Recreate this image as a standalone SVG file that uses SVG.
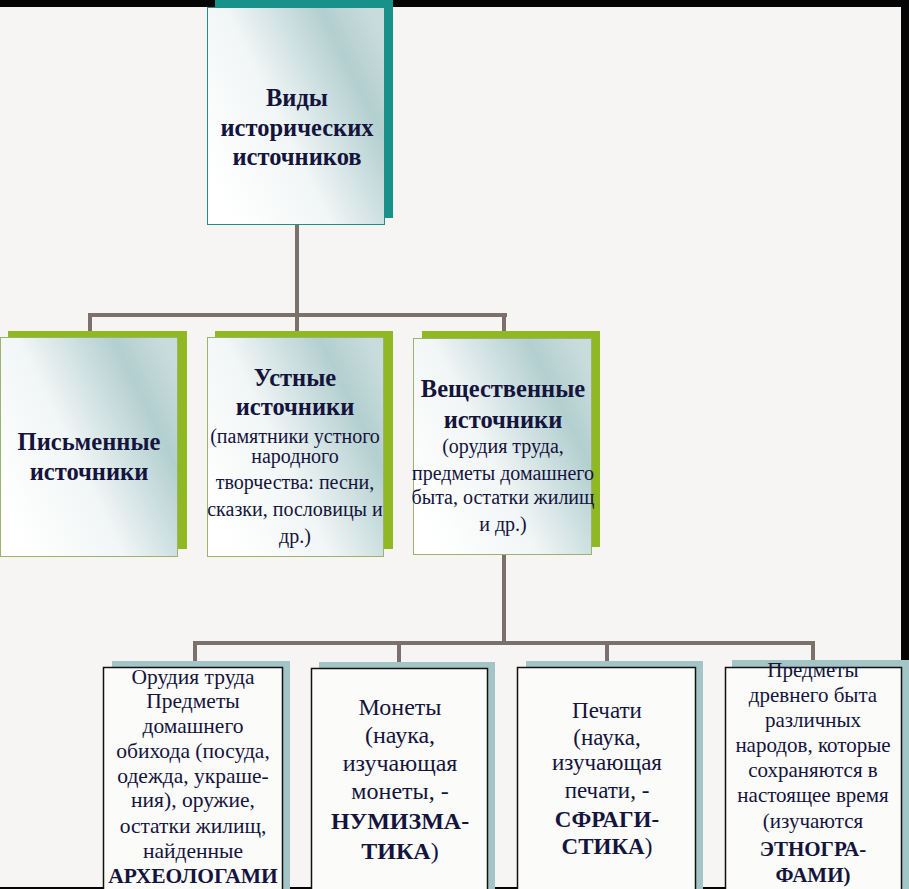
<svg xmlns="http://www.w3.org/2000/svg" width="909" height="889" viewBox="0 0 909 889">
  <defs>
    <linearGradient id="g2" x1="0" y1="0.75" x2="1" y2="0.15">
      <stop offset="0" stop-color="#ffffff"/>
      <stop offset="0.4" stop-color="#f2f6f6"/>
      <stop offset="0.8" stop-color="#b3cfd0"/>
      <stop offset="1" stop-color="#c9dcdc"/>
    </linearGradient>
    <style>
      .bg { fill: #f6f5f4; }
      .edge { fill: #050505; }
      .conn { stroke: #7b706c; stroke-width: 4; fill: none; }
      .shTeal { fill: #17918a; }
      .shGreen { fill: #8fb823; }
      .shGray { fill: #a3c5c6; }
      .boxTop { fill: url(#g2); stroke: #1f8f87; stroke-width: 1; }
      .boxMid { fill: url(#g2); stroke: #9bb36a; stroke-width: 1; }
      .boxLow { fill: #fbfbfa; stroke: #111111; stroke-width: 1.5; }
      text { font-family: "Liberation Serif", "Times New Roman", serif; fill: #14143c; text-anchor: middle; }
      .h { font-weight: bold; }
      .t1 { font-size: 24.5px; }
      .t2 { font-size: 24.5px; }
      .s2 { font-size: 20px; }
      .s3 { font-size: 21.5px; }
      .s4 { font-size: 21px; }
      .m3 { font-size: 24px; }
      .c3 { font-size: 23px; }
    </style>
  </defs>
  <rect class="bg" x="0" y="0" width="909" height="889"/>
  <rect class="edge" x="0" y="0" width="909" height="7"/>
  <rect class="edge" x="901" y="0" width="8" height="889"/>
  <rect class="edge" x="0" y="887" width="909" height="2"/>

  <g id="connectors">
    <path class="conn" d="M297 225 V315 M88 315 H507 M90 313 V334 M297 315 V334 M504 315 V334"/>
    <path class="conn" d="M504 553 V643 M193 643 H815 M195 641 V663 M399 643 V663 M607 643 V663 M813 643 V663"/>
  </g>

  <g id="node-root">
    <rect class="shTeal" x="215" y="0" width="178" height="218"/>
    <rect class="boxTop" x="207.5" y="7.5" width="177" height="217"/>
    <text class="h t1" x="297" y="106">Виды</text>
    <text class="h t1" x="297" y="136">исторических</text>
    <text class="h t1" x="297" y="165">источников</text>
  </g>

  <g id="node-written">
    <rect class="shGreen" x="8" y="331" width="179" height="218"/>
    <rect class="boxMid" x="0.5" y="337.5" width="177" height="219"/>
    <text class="h t2" x="89" y="450">Письменные</text>
    <text class="h t2" x="89" y="480">источники</text>
  </g>

  <g id="node-oral">
    <rect class="shGreen" x="215" y="331" width="178" height="218"/>
    <rect class="boxMid" x="207.5" y="337.5" width="176" height="219"/>
    <text class="h t2" x="295" y="386">Устные</text>
    <text class="h t2" x="295" y="415">источники</text>
    <text class="s2" x="295" y="443">(памятники устного</text>
    <text class="s2" x="295" y="463">народного</text>
    <text class="s2" x="295" y="489">творчества: песни,</text>
    <text class="s2" x="295" y="516">сказки, пословицы и</text>
    <text class="s2" x="295" y="543">др.)</text>
  </g>

  <g id="node-material">
    <rect class="shGreen" x="422" y="331" width="178" height="216"/>
    <rect class="boxMid" x="413.5" y="338.5" width="178" height="216"/>
    <text class="h t2" x="503" y="397">Вещественные</text>
    <text class="h t2" x="503" y="428">источники</text>
    <text class="s2" x="503" y="453">(орудия труда,</text>
    <text class="s2" x="503" y="480">предметы домашнего</text>
    <text class="s2" x="503" y="504">быта, остатки жилищ</text>
    <text class="s2" x="503" y="531">и др.)</text>
  </g>

  <g id="node-archaeology">
    <rect class="shGray" x="112" y="661" width="178" height="240"/>
    <rect class="boxLow" x="103.5" y="667.5" width="179" height="240"/>
    <text class="s3" x="193" y="684">Орудия труда</text>
    <text class="s3" x="193" y="708">Предметы</text>
    <text class="s3" x="193" y="733">домашнего</text>
    <text class="s3" x="193" y="758">обихода (посуда,</text>
    <text class="s3" x="193" y="783">одежда, украше-</text>
    <text class="s3" x="193" y="807">ния), оружие,</text>
    <text class="s3" x="193" y="833">остатки жилищ,</text>
    <text class="s3" x="193" y="858">найденные</text>
    <text class="s3 h" x="193" y="883">АРХЕОЛОГАМИ</text>
  </g>

  <g id="node-coins">
    <rect class="shGray" x="319" y="662" width="176" height="240"/>
    <rect class="boxLow" x="311.5" y="668.5" width="176" height="240"/>
    <text class="m3" x="400" y="715">Монеты</text>
    <text class="m3" x="400" y="743">(наука,</text>
    <text class="m3" x="400" y="771">изучающая</text>
    <text class="m3" x="400" y="799">монеты, -</text>
    <text class="m3 h" x="400" y="829">НУМИЗМА-</text>
    <text class="m3" x="400" y="859"><tspan class="h">ТИКА</tspan>)</text>
  </g>

  <g id="node-seals">
    <rect class="shGray" x="526" y="661" width="177" height="240"/>
    <rect class="boxLow" x="517.5" y="667.5" width="178" height="240"/>
    <text class="c3" x="607" y="718">Печати</text>
    <text class="c3" x="607" y="745">(наука,</text>
    <text class="c3" x="607" y="770">изучающая</text>
    <text class="c3" x="607" y="798">печати, -</text>
    <text class="c3 h" x="607" y="827">СФРАГИ-</text>
    <text class="c3" x="607" y="854"><tspan class="h">СТИКА</tspan>)</text>
  </g>

  <g id="node-ethnography">
    <rect class="shGray" x="732" y="660" width="177" height="240"/>
    <rect class="boxLow" x="725.5" y="667.5" width="176" height="240"/>
    <text class="s4" x="813" y="677">Предметы</text>
    <text class="s4" x="813" y="702">древнего быта</text>
    <text class="s4" x="813" y="727">различных</text>
    <text class="s4" x="813" y="752">народов, которые</text>
    <text class="s4" x="813" y="777">сохраняются в</text>
    <text class="s4" x="813" y="802">настоящее время</text>
    <text class="s4" x="813" y="828">(изучаются</text>
    <text class="s4 h" x="813" y="856">ЭТНОГРА-</text>
    <text class="s4 h" x="813" y="882">ФАМИ)</text>
  </g>
</svg>
